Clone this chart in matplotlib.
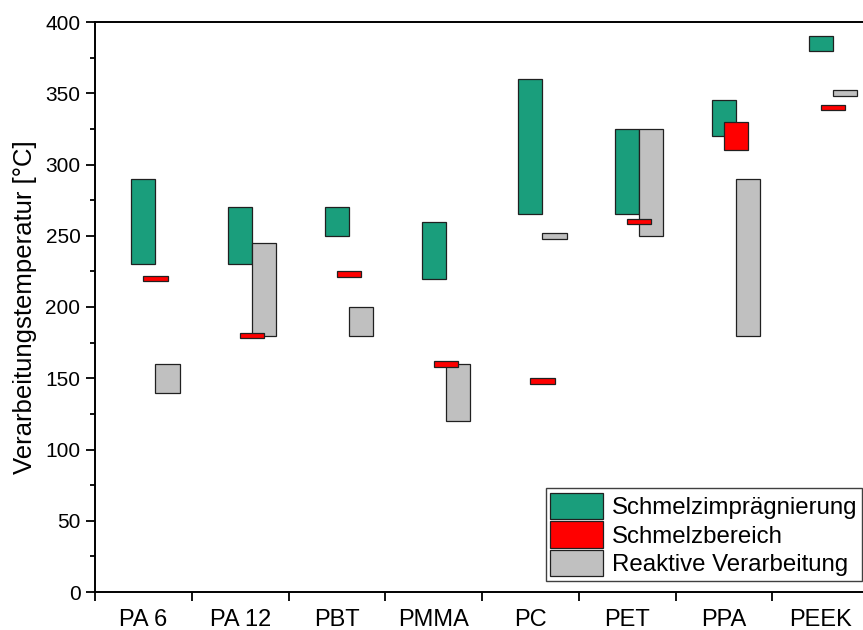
import matplotlib
matplotlib.use("Agg")
import matplotlib.pyplot as plt
from matplotlib.patches import Patch
from matplotlib.ticker import MultipleLocator, FixedLocator, NullFormatter, FixedFormatter
import numpy as np

plt.rcParams['font.family'] = ['Liberation Sans', 'DejaVu Sans']

# Polymere und Temperaturbereiche in °C (untere / obere Grenze)
polymers = ["PA 6", "PA 12", "PBT", "PMMA", "PC", "PET", "PPA", "PEEK"]

impraeg_low = [230, 230, 250, 220, 265, 265, 320, 380]
impraeg_high = [290, 270, 270, 260, 360, 325, 345, 390]

schmelz_low = [218, 178, 221, 158, 146, 258, 310, 338]
schmelz_high = [222, 182, 225, 162, 150, 262, 330, 342]

reaktiv_low = [140, 180, 180, 120, 248, 250, 180, 348]
reaktiv_high = [160, 245, 200, 160, 252, 325, 290, 352]

c_green = "#1a9e7c"
c_red = "#ff0000"
c_grey = "#c0c0c0"

fig = plt.figure(figsize=(8.63, 6.3), dpi=100)
ax = fig.add_axes([95 / 863, 38 / 630, 774 / 863, 570 / 630])

x = np.arange(len(polymers))
w = 0.25
edge = dict(edgecolor="#202020", linewidth=0.9)

def span(lo, hi):
    return np.array(hi) - np.array(lo)

ax.bar(x + 0.5, span(impraeg_low, impraeg_high), w, bottom=impraeg_low,
       color=c_green, zorder=2, **edge)
ax.bar(x + 0.75, span(reaktiv_low, reaktiv_high), w, bottom=reaktiv_low,
       color=c_grey, zorder=3, **edge)
ax.bar(x + 0.625, span(schmelz_low, schmelz_high), w, bottom=schmelz_low,
       color=c_red, zorder=4, **edge)

ax.set_xlim(0, len(polymers))
ax.set_ylim(0, 400)

# Achsen und Ticks
ax.xaxis.set_major_locator(FixedLocator(np.arange(len(polymers) + 1)))
ax.xaxis.set_major_formatter(NullFormatter())
ax.xaxis.set_minor_locator(FixedLocator(x + 0.5))
ax.xaxis.set_minor_formatter(FixedFormatter(polymers))
ax.tick_params(axis="x", which="major", direction="out", length=6.5, width=1.3)
ax.tick_params(axis="x", which="minor", length=0, pad=12, labelsize=17)

ax.yaxis.set_major_locator(MultipleLocator(50))
ax.yaxis.set_minor_locator(MultipleLocator(25))
ax.tick_params(axis="y", which="major", direction="out", length=6.5, width=1.3,
               labelsize=15, pad=4)
ax.tick_params(axis="y", which="minor", direction="out", length=3.5, width=1.3)

for side in ["left", "bottom", "top", "right"]:
    ax.spines[side].set_linewidth(1.4)

ax.set_ylabel("Verarbeitungstemperatur [°C]", fontsize=18.5, labelpad=6)

handles = [
    Patch(facecolor=c_green, edgecolor="#202020", linewidth=0.9, label="Schmelzimprägnierung"),
    Patch(facecolor=c_red, edgecolor="#202020", linewidth=0.9, label="Schmelzbereich"),
    Patch(facecolor=c_grey, edgecolor="#202020", linewidth=0.9, label="Reaktive Verarbeitung"),
]
leg = ax.legend(handles=handles, loc="lower right", bbox_to_anchor=(862 / 863, 49 / 630),
                bbox_transform=fig.transFigure, borderaxespad=0, fontsize=17.3,
                fancybox=False, framealpha=1, edgecolor="#404040",
                handlelength=2.2, handleheight=1.3, labelspacing=0.1,
                borderpad=0.2, handletextpad=0.35)
leg.get_frame().set_linewidth(1.0)

fig.savefig("out.png", dpi=100)
